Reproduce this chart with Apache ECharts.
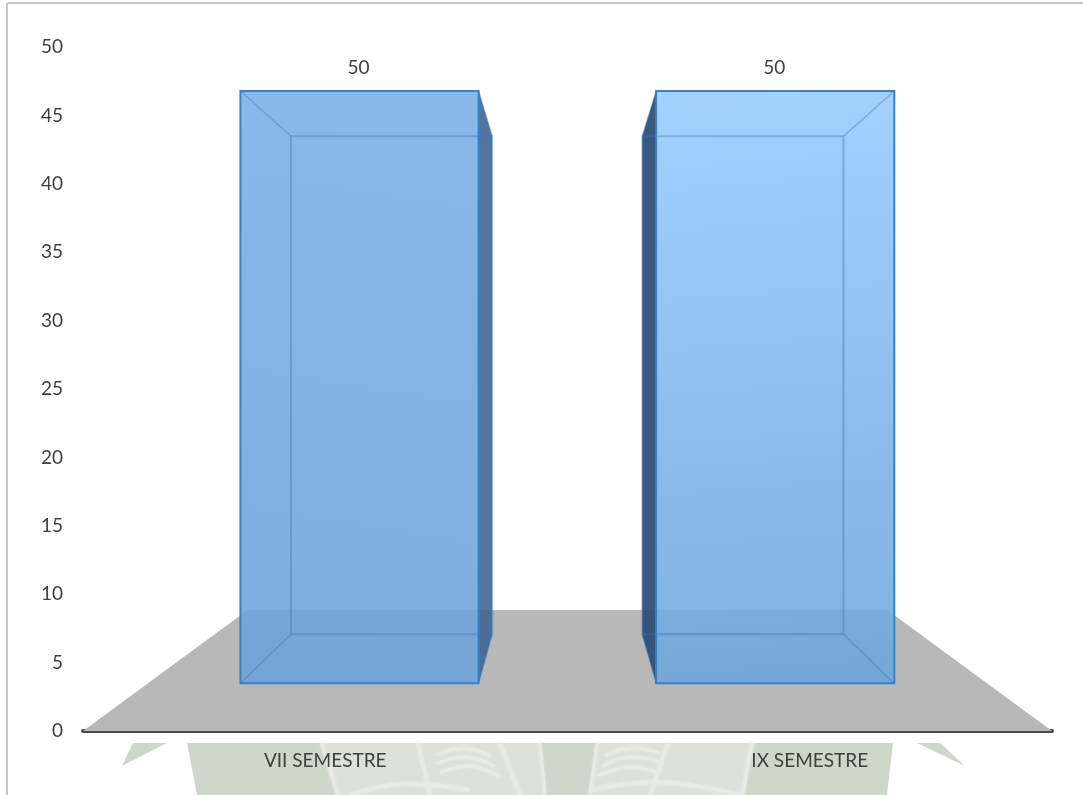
<!DOCTYPE html>
<html><head><meta charset="utf-8">
<style>html,body{margin:0;padding:0;background:#fff}#c{width:1083px;height:795px}</style>
<script src="https://cdn.jsdelivr.net/npm/echarts@6/dist/echarts.min.js"></script>
</head><body><div id="c"></div>
<script>
const categories = ['VII SEMESTRE', 'IX SEMESTRE'];
const values = [50, 50];
const yTicksMax = 50;
const yTickStep = 5;

const vanishValue = 26;      // height of the perspective vanishing point, axis units
const nearX = 0.858, nearY = 0.866, farX = 0.725, farY = 0.728, floorBackScale = 0.66;
const barHalfWidth = 0.2865; // fraction of band

const faces = [
  {top:'rgba(131,183,236,0.96)', bottom:'rgba(105,163,220,0.88)', side:'rgba(58,98,146,0.88)'},
  {top:'rgba(160,210,255,0.98)', bottom:'rgba(106,166,224,0.88)', side:'rgba(38,76,118,0.92)'}
];
const edge = '#3f7fbd', inner = 'rgba(60,115,175,0.38)';
const fontFamily = 'Lato, "Open Sans", sans-serif';

function renderFloor(params, api){
  const cs = params.coordSys;
  const y0 = api.coord([0,0])[1], vy = api.coord([0,vanishValue])[1];
  const vx = cs.x + cs.width/2;
  const by = vy + floorBackScale*(y0-vy), hw = cs.width/2;
  return {type:'polygon', silent:true,
    shape:{points:[[cs.x,y0],[cs.x+cs.width,y0],[vx+hw*floorBackScale,by],[vx-hw*floorBackScale,by]]},
    style:{fill:'#b8b8b8'}};
}
function renderBar(params, api){
  const i = api.value(0), v = api.value(1), cs = params.coordSys;
  const vx = cs.x + cs.width/2 - 1, vy = api.coord([0,vanishValue])[1];
  const H = api.size([1,0])[0]*barHalfWidth;
  const P = (side,val,sx,sy)=>{const c=api.coord([i,val]);return [vx+sx*(c[0]-vx+side*H),vy+sy*(c[1]-vy)];};
  const n = (sx,sy)=>[P(-1,v,sx,sy),P(1,v,sx,sy),P(1,0,sx,sy),P(-1,0,sx,sy)];
  const F=n(nearX,nearY), B=n(farX,farY);
  const outer = i===0 ? [F[1],B[1],B[2],F[2]] : [F[0],B[0],B[3],F[3]];
  const f = faces[i];
  const line=(a,b,c,w)=>({type:'line',silent:true,shape:{x1:a[0],y1:a[1],x2:b[0],y2:b[1]},style:{stroke:c,lineWidth:w,fill:null}});
  const children=[
    {type:'polygon',silent:true,shape:{points:outer},style:{fill:f.side}},
    {type:'polygon',silent:true,shape:{points:F},style:{
      fill:{type:'linear',x:i===0?1:0,y:0,x2:i===0?0.6:0.2,y2:1,colorStops:[{offset:0,color:f.top},{offset:1,color:f.bottom}]},
      stroke:edge,lineWidth:2,lineJoin:'miter'}},
    {type:'polygon',silent:true,shape:{points:B},style:{fill:'rgba(0,0,0,0)',stroke:inner,lineWidth:2}}
  ];
  for(let k=0;k<4;k++) children.push(line(F[k],B[k],inner,1.5));
  children.push({type:'text',silent:true,style:{text:String(v),x:(F[0][0]+F[1][0])/2-1,y:F[0][1]-23,align:'center',verticalAlign:'middle',
    font:'19px '+fontFamily,fill:'#404040'}});
  return {type:'group',children};
}

const wmG='#cfd6ca', wmP='#dde1d9', wmA='#e8ebe5';
const poly=(pts,fill)=>({type:'polygon',z:-10,silent:true,shape:{points:pts},style:{fill}});
const arc=(pts,w)=>({type:'polyline',z:-9,silent:true,shape:{points:pts,smooth:0.4},style:{stroke:wmA,lineWidth:w||3,fill:null,shadowBlur:3,shadowColor:wmA}});
const chart = echarts.init(document.getElementById('c'),null,{renderer:'canvas'});
chart.setOption({
  animation:false,
  backgroundColor:'#fff',
  graphic:[
    poly([[187,743],[893,743],[887,795],[197,795]],wmG),
    poly([[133,743],[167,743],[122,766]],wmG),
    poly([[917,743],[940,743],[965,766]],wmG),
    poly([[325,743],[540,743],[545,795],[338,795]],wmP),
    poly([[597,743],[752,743],[745,795],[592,795]],wmP),
    arc([[322,743],[338,795]],4), arc([[418,743],[430,795]],4), arc([[500,743],[520,795]],4), arc([[540,743],[545,795]],3),
    arc([[597,743],[590,795]],3), arc([[668,743],[650,795]],4), arc([[752,743],[742,795]],4),
    arc([[436,755],[465,748],[490,756]]), arc([[436,764],[465,757],[495,766]]), arc([[440,773],[468,766],[500,776]]),
    arc([[605,756],[630,748],[660,753]]), arc([[602,766],[630,757],[660,762]]), arc([[598,776],[628,767],[656,772]]),
    arc([[350,795],[400,784],[470,790]],4), arc([[590,790],[660,782],[740,795]],4),
    {type:'line',z:-5,silent:true,shape:{x1:7,y1:3,x2:1083,y2:3},style:{stroke:'#c6c6c6',lineWidth:2}},
    {type:'line',z:-5,silent:true,shape:{x1:7,y1:3,x2:7,y2:795},style:{stroke:'#c6c6c6',lineWidth:2}}
  ],
  grid:{left:83,right:31,top:47,bottom:64,containLabel:false},
  xAxis:{type:'category',data:categories,boundaryGap:true,
    axisLine:{show:true,lineStyle:{color:'#4a4a4a',width:4}},axisTick:{show:false},
    axisLabel:{margin:20,color:'#404040',fontFamily,fontSize:19}},
  yAxis:{type:'value',min:0,max:yTicksMax,interval:yTickStep,
    axisLine:{show:false},axisTick:{show:false},splitLine:{show:false},
    axisLabel:{margin:20,color:'#404040',fontFamily,fontSize:19}},
  series:[
    {type:'custom',coordinateSystem:'cartesian2d',z:1,renderItem:renderFloor,data:[[0,0]],silent:true},
    {type:'custom',coordinateSystem:'cartesian2d',z:2,renderItem:renderBar,encode:{x:0,y:1},
      data:values.map((v,i)=>[i,v]),silent:true}
  ]
});
</script></body></html>
